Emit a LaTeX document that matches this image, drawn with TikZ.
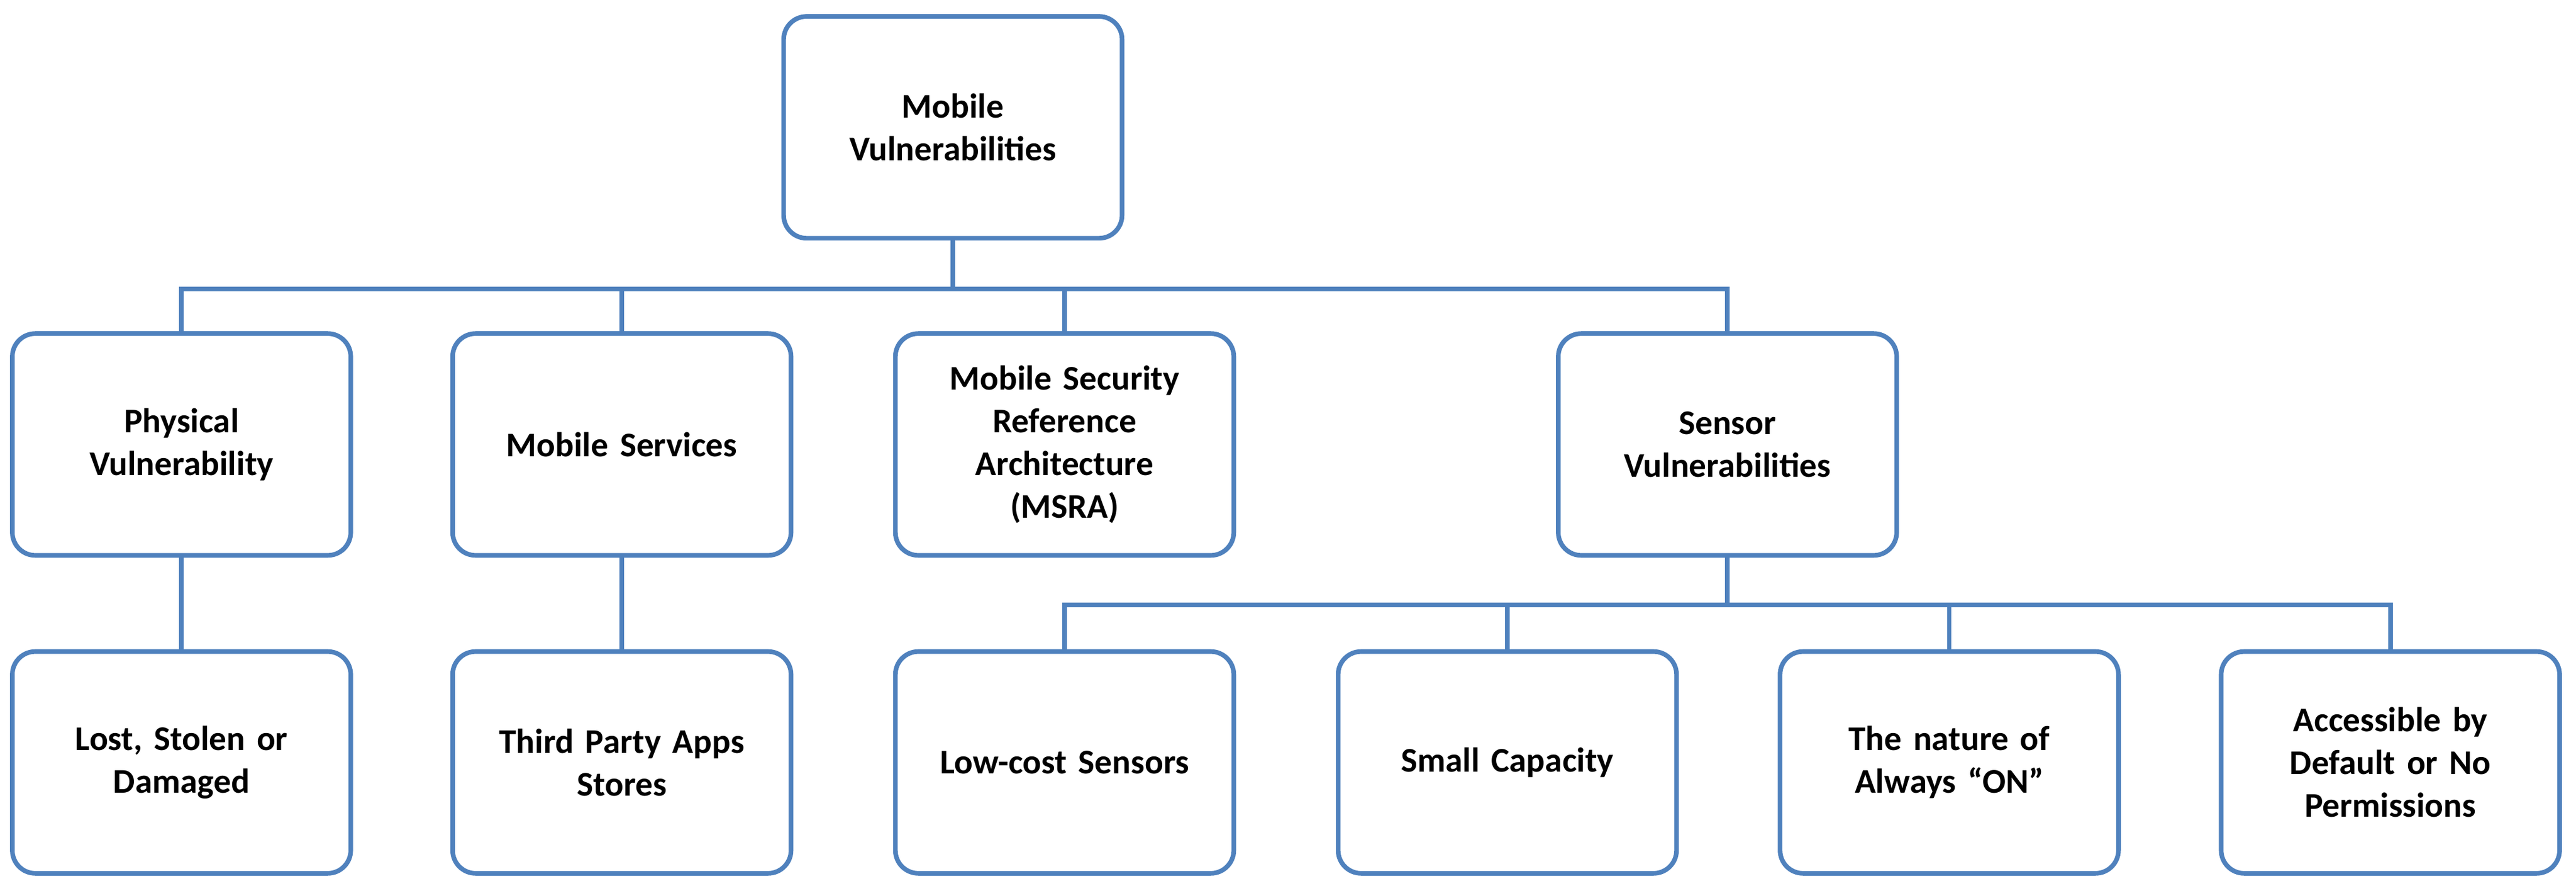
\documentclass[tikz,border=0pt]{standalone}
\usepackage{fontspec}
\setmainfont{Carlito}
\begin{document}
\begin{tikzpicture}[x=0.05cm,y=-0.05cm,
  box/.style={draw=boxblue,line width=4pt,rounded corners=0.7cm,fill=white,
    minimum width=10.3cm,minimum height=6.75cm,align=center,
    font=\fontsize{30}{37}\selectfont\bfseries,text width=9cm},
  ln/.style={draw=boxblue,line width=4pt}]
\definecolor{boxblue}{HTML}{4F81BD}
\useasboundingbox (0,0) rectangle (1568,542);
\node[box] (root) at (580,77.5) {Mobile\\Vulnerabilities};
\node[box] (phys) at (110.5,270.5) {Physical\\Vulnerability};
\node[box] (serv) at (378.5,270.5) {Mobile Services};
\node[box] (msra) at (648,270.5) {Mobile Security\\Reference\\Architecture\\(MSRA)};
\node[box] (sens) at (1051.5,270.5) {Sensor\\Vulnerabilities};
\node[box] (lost) at (110.5,464) {Lost, Stolen or\\Damaged};
\node[box] (third) at (378.5,464) {Third Party Apps\\Stores};
\node[box] (low) at (648,464) {Low-cost Sensors};
\node[box] (small) at (917.5,464) {Small Capacity};
\node[box] (nat) at (1186.5,464) {The nature of\\Always “ON”};
\node[box] (acc) at (1455,464) {Accessible by\\Default or No\\Permissions};
\coordinate (b1) at (580,176);
\coordinate (b2) at (1051.5,368);
\begin{scope}[on background layer/.try]
\end{scope}
\draw[ln] (root.south) -- (b1);
\foreach \n in {phys,serv,msra,sens} \draw[ln,line join=miter] (b1) -| (\n.north);
\draw[ln] (b1) -| (phys.north);
\draw[ln] (phys.south) -- (lost.north);
\draw[ln] (serv.south) -- (third.north);
\draw[ln] (sens.south) -- (b2);
\foreach \n in {low,small,nat,acc} \draw[ln] (b2) -| (\n.north);
\end{tikzpicture}
\end{document}
